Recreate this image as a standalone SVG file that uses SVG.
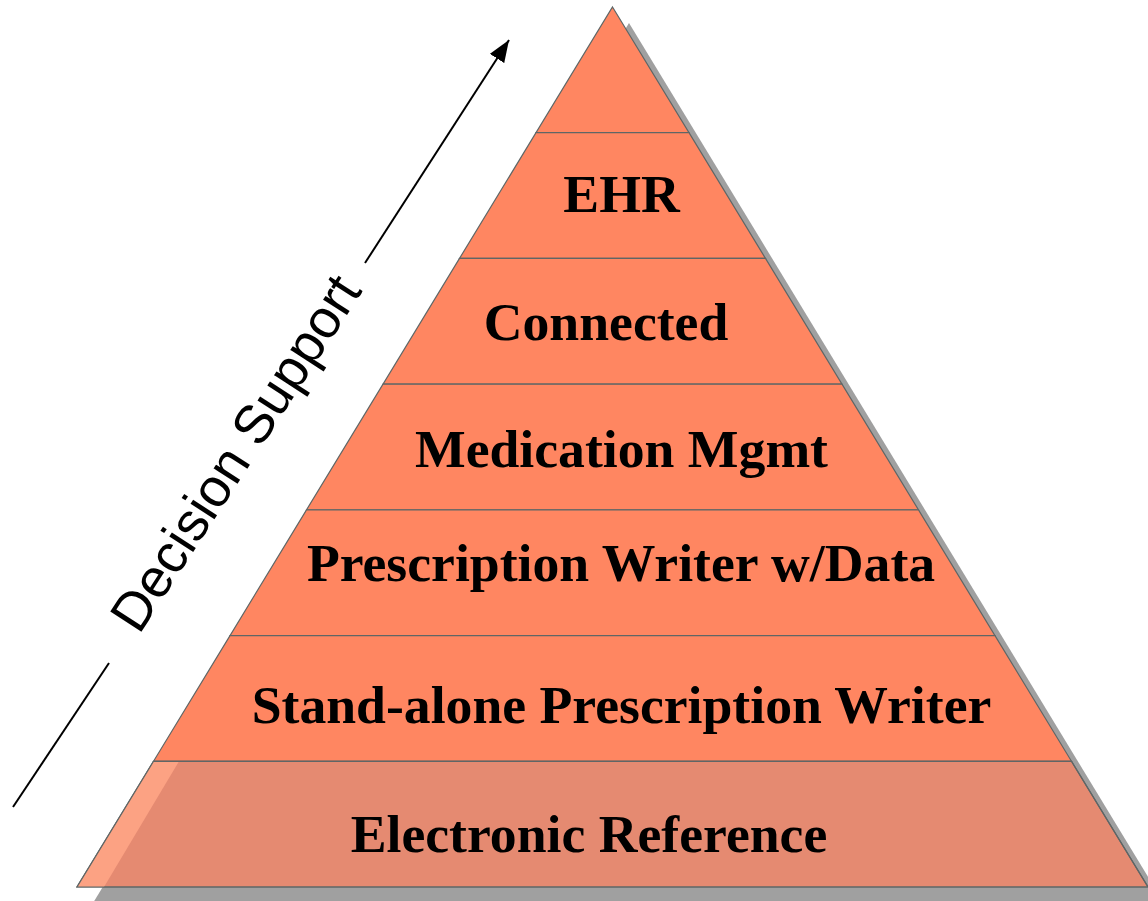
<svg xmlns="http://www.w3.org/2000/svg" width="1148" height="901" viewBox="0 0 1148 901">
<style>
.band{fill:#FF8661;stroke:#5F6666;stroke-width:1.2;}
.base{fill:#E58A71;stroke:#5F6666;stroke-width:1.2;}
.lbl{font-family:"Liberation Serif","Times New Roman",serif;font-weight:bold;font-size:53.7px;fill:#000;text-anchor:middle;}
.ds{font-family:"Liberation Sans",Arial,sans-serif;font-size:54px;fill:#000;text-anchor:middle;}
.conn{stroke:#000;stroke-width:2;fill:none;}
</style>
<defs>
<marker id="ah2" viewBox="0 0 22 17" refX="22" refY="8.5" markerWidth="22" markerHeight="17" markerUnits="userSpaceOnUse" orient="auto">
<path d="M0,0 L22,8.5 L0,17 Z" fill="#000"/>
</marker>
</defs>
<rect width="1148" height="901" fill="#fff"/>
<polygon id="shadow" points="629,23 1164,903 93,903" fill="#A0A0A0"/>
<g id="layer-top"><polygon class="band" points="612.5,7 689,132.71 536,132.71"/></g>
<g id="layer-ehr"><polygon class="band" points="536,132.71 689,132.71 765.5,258.43 459.5,258.43"/><text class="lbl" x="621.5" y="212">EHR</text></g>
<g id="layer-connected"><polygon class="band" points="459.5,258.43 765.5,258.43 842,384.14 383,384.14"/><text class="lbl" x="606" y="340">Connected</text></g>
<g id="layer-medication"><polygon class="band" points="383,384.14 842,384.14 918.5,509.86 306.5,509.86"/><text class="lbl" x="621.5" y="467">Medication Mgmt</text></g>
<g id="layer-prescription-data"><polygon class="band" points="306.5,509.86 918.5,509.86 995,635.57 230,635.57"/><text class="lbl" x="621" y="581">Prescription Writer w/Data</text></g>
<g id="layer-standalone"><polygon class="band" points="230,635.57 995,635.57 1071.5,761.29 153.5,761.29"/><text class="lbl" x="621.5" y="723">Stand-alone Prescription Writer</text></g>
<g id="layer-electronic">
<polygon class="base" points="153.5,761.29 1071.5,761.29 1148,887 77,887" stroke="none"/>
<polygon points="153.5,761.29 179,761.29 104,887 77,887" fill="#FCA283"/>
<polygon points="153.5,761.29 1071.5,761.29 1148,887 77,887" fill="none" stroke="#5F6666" stroke-width="1.2"/>
<text class="lbl" x="589" y="852">Electronic Reference</text>
</g>
<g id="connectors">
<line class="conn" x1="13" y1="807" x2="109" y2="663"/>
<line class="conn" x1="365" y1="263" x2="509" y2="40" marker-end="url(#ah2)"/>
</g>
<g id="decision-support"><text class="ds" transform="translate(251,463) rotate(-57)">Decision Support</text></g>
</svg>
